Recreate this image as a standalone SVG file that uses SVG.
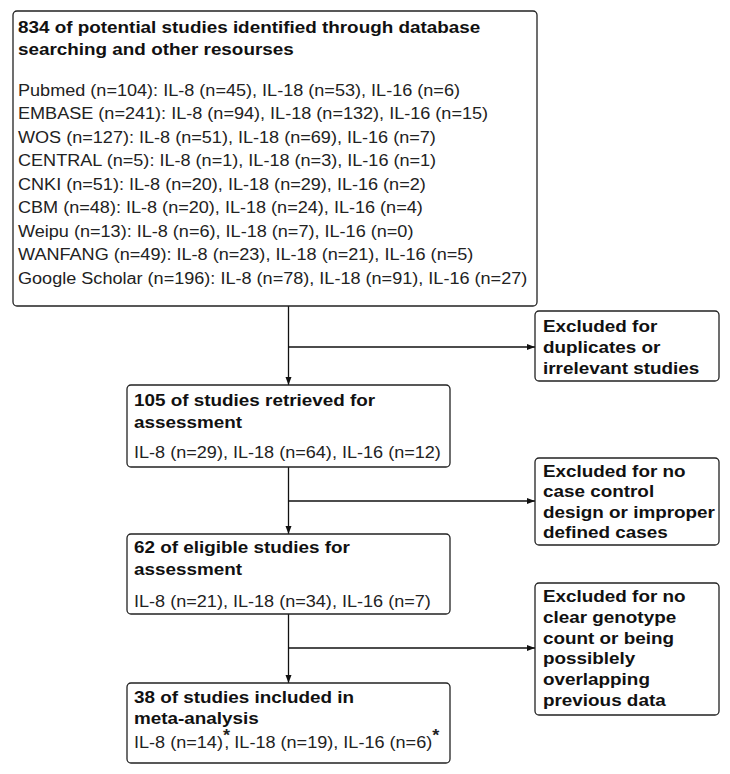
<svg xmlns="http://www.w3.org/2000/svg" width="730" height="774" viewBox="0 0 730 774">
<defs>
<style>
.box{fill:#fff;stroke:#222;stroke-width:1.3}
.b{font-family:"Liberation Sans",Arial,sans-serif;font-size:16px;font-weight:bold;fill:#111}
.r{font-family:"Liberation Sans",Arial,sans-serif;font-size:16px;fill:#222}
.ln{stroke:#111;stroke-width:1.3;fill:none}
</style>
<marker id="ah" viewBox="0 0 8 8" refX="8" refY="4" markerWidth="8" markerHeight="8" markerUnits="userSpaceOnUse" orient="auto">
<path d="M0,1 L8,4 L0,7 Z" fill="#111"/>
</marker>
</defs>
<rect width="730" height="774" fill="#fff"/>
<g id="connectors">
<path class="ln" d="M288.5,306 V385" marker-end="url(#ah)"/>
<path class="ln" d="M288.5,347 H535" marker-end="url(#ah)"/>
<path class="ln" d="M288.5,467 V534" marker-end="url(#ah)"/>
<path class="ln" d="M288.5,501 H535" marker-end="url(#ah)"/>
<path class="ln" d="M288.5,614 V683" marker-end="url(#ah)"/>
<path class="ln" d="M288.5,648 H535" marker-end="url(#ah)"/>
</g>
<g id="identified">
<rect class="box" x="13" y="11" width="524" height="295" rx="4"/>
<g transform="translate(18,0) scale(1.18,1)">
<text class="b" x="0" y="33">834 of potential studies identified through database</text>
<text class="b" x="0" y="55">searching and other resourses</text>
</g>
<g transform="translate(18,0) scale(1.13,1)">
<text class="r" x="0" y="96">Pubmed (n=104): IL-8 (n=45), IL-18 (n=53), IL-16 (n=6)</text>
<text class="r" x="0" y="119.5">EMBASE (n=241): IL-8 (n=94), IL-18 (n=132), IL-16 (n=15)</text>
<text class="r" x="0" y="143">WOS (n=127): IL-8 (n=51), IL-18 (n=69), IL-16 (n=7)</text>
<text class="r" x="0" y="166.5">CENTRAL (n=5): IL-8 (n=1), IL-18 (n=3), IL-16 (n=1)</text>
<text class="r" x="0" y="190">CNKI (n=51): IL-8 (n=20), IL-18 (n=29), IL-16 (n=2)</text>
<text class="r" x="0" y="213.5">CBM (n=48): IL-8 (n=20), IL-18 (n=24), IL-16 (n=4)</text>
<text class="r" x="0" y="237">Weipu (n=13): IL-8 (n=6), IL-18 (n=7), IL-16 (n=0)</text>
<text class="r" x="0" y="260.5">WANFANG (n=49): IL-8 (n=23), IL-18 (n=21), IL-16 (n=5)</text>
<text class="r" x="0" y="284.5">Google Scholar (n=196): IL-8 (n=78), IL-18 (n=91), IL-16 (n=27)</text>
</g>
</g>
<g id="excluded1">
<rect class="box" x="535" y="311" width="184" height="70" rx="4"/>
<g transform="translate(543,0) scale(1.18,1)">
<text class="b" x="0" y="332">Excluded for</text>
<text class="b" x="0" y="353">duplicates or</text>
<text class="b" x="0" y="374">irrelevant studies</text>
</g>
</g>
<g id="retrieved">
<rect class="box" x="127" y="385" width="323" height="82" rx="4"/>
<g transform="translate(134,0) scale(1.18,1)">
<text class="b" x="0" y="406">105 of studies retrieved for</text>
<text class="b" x="0" y="428">assessment</text>
</g>
<g transform="translate(134,0) scale(1.13,1)">
<text class="r" x="0" y="458">IL-8 (n=29), IL-18 (n=64), IL-16 (n=12)</text>
</g>
</g>
<g id="excluded2">
<rect class="box" x="535" y="458" width="184" height="87" rx="4"/>
<g transform="translate(543,0) scale(1.18,1)">
<text class="b" x="0" y="477">Excluded for no</text>
<text class="b" x="0" y="497.5">case control</text>
<text class="b" x="0" y="518">design or improper</text>
<text class="b" x="0" y="538.5">defined cases</text>
</g>
</g>
<g id="eligible">
<rect class="box" x="127" y="534" width="323" height="80" rx="4"/>
<g transform="translate(134,0) scale(1.18,1)">
<text class="b" x="0" y="553">62 of eligible studies for</text>
<text class="b" x="0" y="575">assessment</text>
</g>
<g transform="translate(134,0) scale(1.13,1)">
<text class="r" x="0" y="607">IL-8 (n=21), IL-18 (n=34), IL-16 (n=7)</text>
</g>
</g>
<g id="excluded3">
<rect class="box" x="535" y="583" width="184" height="132" rx="4"/>
<g transform="translate(543,0) scale(1.18,1)">
<text class="b" x="0" y="602">Excluded for no</text>
<text class="b" x="0" y="622.8">clear genotype</text>
<text class="b" x="0" y="643.6">count or being</text>
<text class="b" x="0" y="664.4">possiblely</text>
<text class="b" x="0" y="685.2">overlapping</text>
<text class="b" x="0" y="706">previous data</text>
</g>
</g>
<g id="included">
<rect class="box" x="127" y="683" width="323" height="80" rx="4"/>
<g transform="translate(134,0) scale(1.18,1)">
<text class="b" x="0" y="703">38 of studies included in</text>
<text class="b" x="0" y="724">meta-analysis</text>
</g>
<g transform="translate(134,0) scale(1.13,1)">
<text class="r" x="0" y="748">IL-8 (n=14)<tspan font-weight="bold" dy="-7">*</tspan><tspan dx="-5" dy="7">, IL-18 (n=19), IL-16 (n=6)</tspan><tspan font-weight="bold" dy="-7">*</tspan></text>
</g>
</g>
</svg>
